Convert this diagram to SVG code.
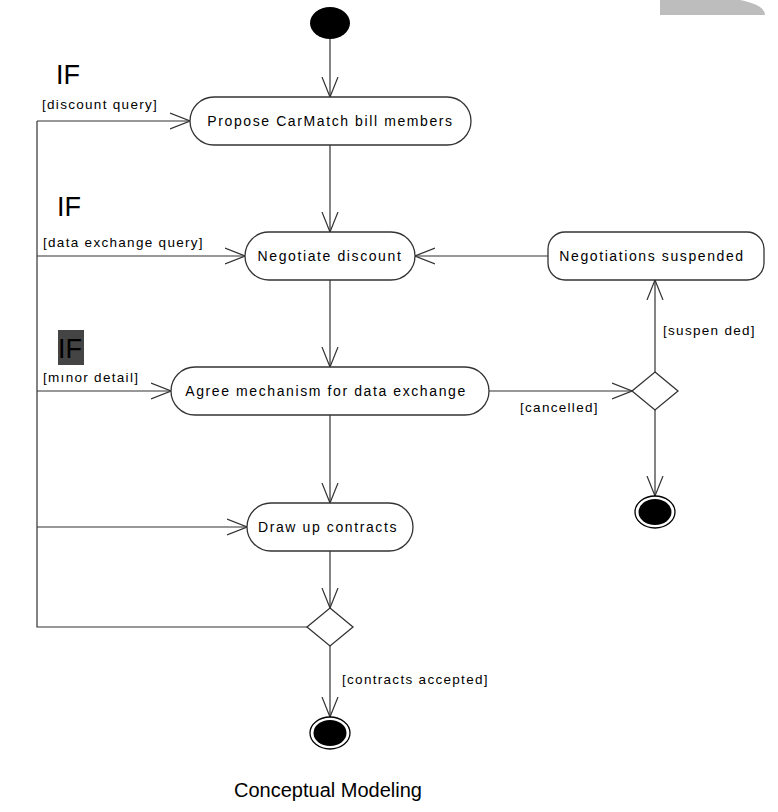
<svg xmlns="http://www.w3.org/2000/svg" width="778" height="812" viewBox="0 0 778 812">
<style>
.n{fill:#fff;stroke:#333;stroke-width:1.3}
.t{font-family:"Liberation Sans",Arial,sans-serif;font-size:14px;letter-spacing:1.6px;fill:#000}
.g{font-family:"Liberation Sans",Arial,sans-serif;font-size:13.5px;letter-spacing:1.3px;fill:#000}
.c{fill:none;stroke:#333;stroke-width:1.2}
.if{font-family:"Liberation Sans",Arial,sans-serif;font-size:27px;fill:#000}
</style>
<defs>
<marker id="a" viewBox="0 0 20 20" refX="20" refY="10" markerWidth="20" markerHeight="20" markerUnits="userSpaceOnUse" orient="auto">
<path d="M0,2 L20,10 L0,18" fill="none" stroke="#333" stroke-width="1.2"/>
</marker>
</defs>
<path d="M660,0 H740 Q765,5 765,15 H660 Z" fill="#bdbdbd"/>
<g id="connectors">
<line class="c" x1="330" y1="39" x2="330" y2="97" marker-end="url(#a)"/>
<line class="c" x1="330" y1="145" x2="330" y2="232" marker-end="url(#a)"/>
<line class="c" x1="330" y1="280" x2="330" y2="367" marker-end="url(#a)"/>
<line class="c" x1="330" y1="415" x2="330" y2="503" marker-end="url(#a)"/>
<line class="c" x1="330" y1="551" x2="330" y2="608" marker-end="url(#a)"/>
<line class="c" x1="330" y1="646" x2="330" y2="717" marker-end="url(#a)"/>
<path class="c" d="M307,627 H37 V121"/>
<line class="c" x1="37" y1="121" x2="190" y2="121" marker-end="url(#a)"/>
<line class="c" x1="37" y1="256" x2="245" y2="256" marker-end="url(#a)"/>
<line class="c" x1="37" y1="391" x2="171" y2="391" marker-end="url(#a)"/>
<line class="c" x1="37" y1="527" x2="247" y2="527" marker-end="url(#a)"/>
<line class="c" x1="489" y1="391" x2="632" y2="391" marker-end="url(#a)"/>
<line class="c" x1="548" y1="256" x2="415" y2="256" marker-end="url(#a)"/>
<line class="c" x1="655" y1="372" x2="655" y2="280" marker-end="url(#a)"/>
<line class="c" x1="655" y1="410" x2="655" y2="496" marker-end="url(#a)"/>
</g>
<g id="start"><ellipse cx="330" cy="23" rx="20" ry="16" fill="#000"/></g>
<g id="propose"><rect class="n" x="190" y="97" width="281" height="48" rx="24"/><text class="t" x="330.5" y="126" text-anchor="middle">Propose CarMatch bill members</text></g>
<g id="negotiate"><rect class="n" x="245" y="232" width="170" height="48" rx="24"/><text class="t" x="330" y="261" text-anchor="middle">Negotiate discount</text></g>
<g id="agree"><rect class="n" x="171" y="367" width="318" height="48" rx="24"/><text class="t" x="326" y="396" text-anchor="middle">Agree mechanism for data exchange</text></g>
<g id="draw"><rect class="n" x="247" y="503" width="166" height="48" rx="24"/><text class="t" x="328" y="532" text-anchor="middle">Draw up contracts</text></g>
<g id="suspended"><rect class="n" x="548" y="232" width="216" height="48" rx="17" stroke="#000"/><text class="t" x="652" y="261" text-anchor="middle">Negotiations suspended</text></g>
<g id="dec1"><path class="n" d="M330,608 L353,627 L330,646 L307,627 Z" stroke="#000" stroke-width="1.5"/></g>
<g id="dec2"><path class="n" d="M655,372 L678,391 L655,410 L632,391 Z" stroke="#000" stroke-width="1.5"/></g>
<g id="end1"><ellipse cx="330" cy="733" rx="20" ry="16" fill="#fff" stroke="#000" stroke-width="1.3"/><ellipse cx="330" cy="733" rx="16.5" ry="13" fill="#000"/></g>
<g id="end2"><ellipse cx="655" cy="512" rx="20" ry="16" fill="#fff" stroke="#000" stroke-width="1.3"/><ellipse cx="655" cy="512" rx="16.5" ry="13" fill="#000"/></g>
<g id="labels">
<text class="if" x="56" y="84">IF</text>
<text class="if" x="57" y="216">IF</text>
<rect x="58" y="330" width="26" height="35" fill="#444"/>
<text class="if" x="58" y="358">IF</text>
<text class="g" x="42" y="109">[discount query]</text>
<text class="g" x="43" y="247">[data exchange query]</text>
<text class="g" x="43" y="382">[mınor detail]</text>
<text class="g" x="520" y="412">[cancelled]</text>
<text class="g" x="663" y="335">[suspen ded]</text>
<text class="g" x="342" y="684">[contracts accepted]</text>
<text x="328" y="797" text-anchor="middle" font-family="Liberation Sans,Arial,sans-serif" font-size="20">Conceptual Modeling</text>
</g>
</svg>
